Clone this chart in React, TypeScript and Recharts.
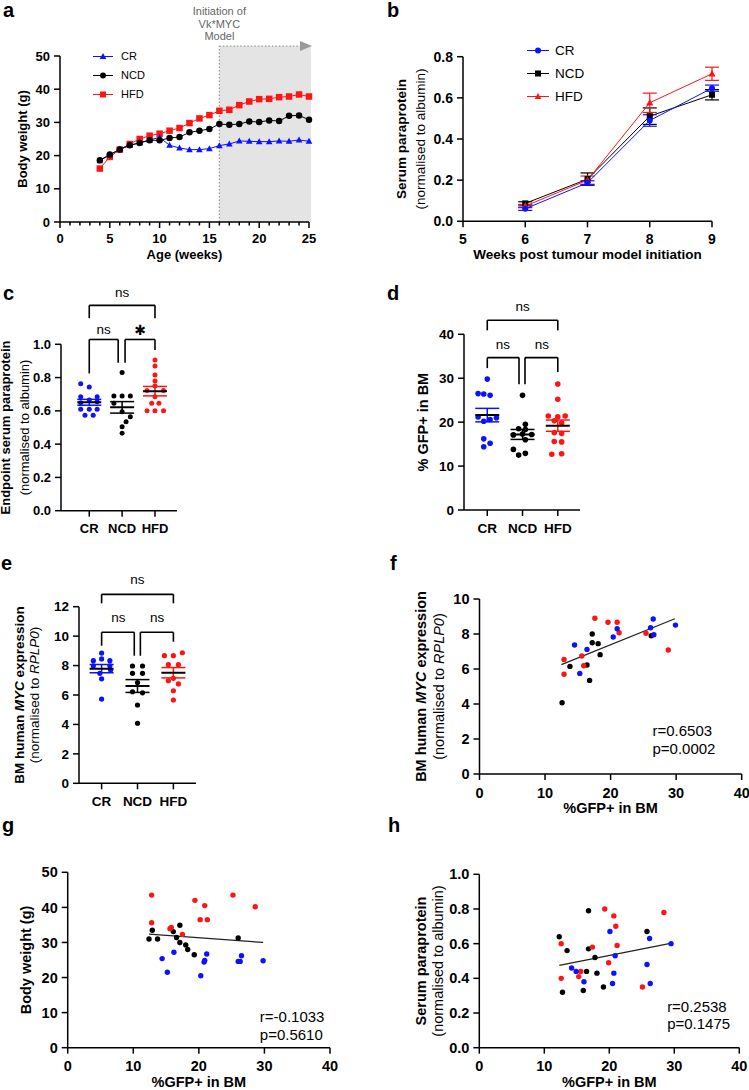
import React from "react";
import {
  LineChart,
  Line,
  ScatterChart,
  Scatter,
  XAxis,
  YAxis,
  Legend,
  ReferenceArea,
  ReferenceLine,
  ReferenceDot,
  ErrorBar,
} from "recharts";

const FONT = '"Liberation Sans", Arial, Helvetica, sans-serif';
const BLUE = "#0a12ff";
const RED = "#ff1414";
const BLACK = "#000000";
const GREY = "#9a9a9a";

const groups = ["CR", "NCD", "HFD"];

// a: body weight by age
const ageWeeks = [4, 5, 6, 7, 8, 9, 10, 11, 12, 13, 14, 15, 16, 17, 18, 19, 20, 21, 22, 23, 24, 25];
const weightCR = [18.5, 20.2, 22.0, 23.1, 23.9, 24.7, 25.5, 23.1, 22.3, 21.8, 21.8, 22.1, 23.0, 23.5, 24.4, 24.3, 24.2, 24.2, 24.4, 24.3, 24.7, 24.3];
const weightNCD = [18.6, 20.3, 21.8, 23.1, 23.8, 24.6, 24.6, 25.3, 25.6, 27.0, 27.5, 28.0, 29.5, 29.3, 29.5, 30.3, 30.1, 30.6, 30.4, 32.0, 32.1, 30.8];
const weightHFD = [16.1, 19.6, 21.8, 23.5, 25.0, 26.0, 26.6, 27.5, 28.3, 29.8, 31.2, 32.2, 33.5, 33.8, 35.2, 36.3, 37.0, 37.1, 37.6, 37.8, 38.4, 37.8];
const ageTicks = [0, 1, 2, 3, 4, 5, 6, 7, 8, 9, 10, 11, 12, 13, 14, 15, 16, 17, 18, 19, 20, 21, 22, 23, 24, 25];
const weightTicks = [0, 10, 20, 30, 40, 50];
const initiationWeek = 16;
const shadeEnd = 25.2;
const shadeTop = 53;

// b: serum paraprotein after initiation (mean, sem)
const weeksPost = [6, 7, 8, 9];
const paraCR = [0.061, 0.187, 0.49, 0.647];
const paraCRsem = [0.008, 0.01, 0.028, 0.015];
const paraNCD = [0.087, 0.205, 0.511, 0.615];
const paraNCDsem = [0.008, 0.03, 0.04, 0.025];
const paraHFD = [0.074, 0.2, 0.576, 0.717];
const paraHFDsem = [0.008, 0.02, 0.047, 0.032];
const weeksPostTicks = [5, 6, 7, 8, 9];
const paraTicks = [0, 0.2, 0.4, 0.6, 0.8];

// c: endpoint serum paraprotein (spread = horizontal offset of each dot)
const endCR = [0.763, 0.743, 0.685, 0.685, 0.665, 0.649, 0.655, 0.609, 0.609, 0.609, 0.573, 0.573];
const endCRspread = [-0.26, 0, -0.26, 0.24, 0, -0.26, 0.24, -0.26, 0, 0.24, -0.13, 0.12];
const endNCD = [0.83, 0.69, 0.69, 0.69, 0.645, 0.595, 0.565, 0.535, 0.505, 0.465];
const endNCDspread = [0, -0.25, 0, 0.25, -0.25, 0, 0.25, 0.12, 0, 0];
const endHFD = [0.905, 0.869, 0.815, 0.78, 0.75, 0.722, 0.722, 0.685, 0.645, 0.645, 0.6, 0.6, 0.6];
const endHFDspread = [0, 0, 0, 0, 0, -0.24, 0.26, 0, -0.1, 0.12, -0.24, 0, 0.26];
const unitTicks = [0, 0.2, 0.4, 0.6, 0.8, 1.0];

// d: % GFP+ in BM
const gfpCR = [29.8, 26.5, 26.4, 26.1, 21.2, 21.0, 20.6, 20.2, 16.2, 15.2, 14.4];
const gfpCRspread = [0, -0.26, -0.1, 0.08, -0.26, 0.26, 0.08, -0.1, -0.1, 0.08, -0.1];
const gfpNCD = [26.1, 19.5, 18.5, 18.3, 17.2, 17.1, 17.3, 16.0, 13.8, 12.5, 12.9];
const gfpNCDspread = [0, 0.08, -0.11, 0.08, 0.26, -0.26, 0, 0.08, -0.26, -0.11, 0.08];
const gfpHFD = [28.7, 25.2, 21.4, 21.2, 21.4, 20.3, 19.8, 17.6, 17.4, 15.6, 15.5, 12.7, 12.8];
const gfpHFDspread = [0, 0, -0.27, 0, 0.21, -0.1, 0.11, -0.1, 0.11, -0.1, 0.11, -0.17, 0.11];
const gfpTicks = [0, 10, 20, 30, 40];

// e: BM human MYC expression
const mycCR = [8.85, 8.45, 8.33, 8.33, 7.98, 7.98, 7.7, 7.47, 7.1, 5.72];
const mycCRspread = [0, 0, -0.23, 0.23, -0.23, 0.23, 0.25, -0.05, 0, 0];
const mycNCD = [7.97, 7.97, 7.47, 7.47, 6.85, 6.22, 6.15, 5.32, 4.08];
const mycNCDspread = [-0.14, 0.14, -0.14, 0.14, 0, -0.14, 0.14, 0, 0];
const mycHFD = [8.87, 8.67, 8.67, 8.06, 8.06, 7.13, 6.97, 6.75, 6.29, 5.66];
const mycHFDspread = [0.25, -0.25, 0, -0.14, 0.14, 0, -0.14, 0.14, 0, 0];
const mycTicks = [0, 2, 4, 6, 8, 10, 12];
const mycTicksF = [0, 2, 4, 6, 8, 10];

// f: MYC vs %GFP+
const fRedX = [17.6, 19.6, 21.0, 21.3, 15.6, 12.9, 15.9, 12.9, 25.4, 28.8];
const fRedY = [8.9, 8.67, 8.67, 8.07, 6.74, 6.55, 6.19, 5.7, 8.04, 7.09];
const fBlueX = [21.0, 20.4, 14.5, 16.4, 15.3, 26.5, 26.1, 26.6, 29.9];
const fBlueY = [8.3, 7.83, 7.37, 7.12, 5.75, 8.86, 8.36, 7.96, 8.51];
const fBlackX = [17.2, 17.2, 18.1, 18.4, 13.8, 16.4, 16.8, 26.2, 12.6];
const fBlackY = [8.0, 7.5, 7.45, 6.82, 6.15, 6.23, 5.35, 7.9, 4.07];
const fFit = [[12.5, 6.25], [29.8, 8.87]];

// g: body weight vs %GFP+
const gRedX = [12.8, 12.8, 15.6, 15.8, 17.5, 19.4, 20.9, 20.2, 21.3, 25.2, 28.6];
const gRedY = [43.5, 35.6, 33.9, 34.3, 32.3, 42.0, 40.5, 36.5, 36.5, 43.5, 40.2];
const gBlackX = [12.4, 12.9, 13.7, 16.1, 16.6, 17.1, 17.1, 18.0, 18.3, 19.3, 26.0];
const gBlackY = [31.0, 33.5, 31.0, 33.1, 31.4, 34.9, 30.0, 29.3, 28.0, 26.5, 31.3];
const gBlueX = [14.4, 15.2, 16.2, 20.3, 20.8, 20.9, 21.2, 26.0, 26.3, 26.5, 29.8];
const gBlueY = [25.4, 21.5, 27.2, 20.5, 24.4, 24.9, 26.7, 24.6, 24.6, 26.2, 24.8];
const gFit = [[12.4, 32.4], [29.8, 30.0]];

// h: serum paraprotein vs %GFP+
const hBlackX = [12.3, 12.8, 13.5, 16.0, 16.5, 16.8, 16.8, 17.8, 18.1, 19.1, 25.8];
const hBlackY = [0.64, 0.32, 0.56, 0.33, 0.44, 0.79, 0.57, 0.52, 0.43, 0.35, 0.67];
const hRedX = [12.6, 12.6, 15.3, 15.6, 17.4, 19.3, 19.9, 20.7, 21.0, 21.2, 25.1, 28.4];
const hRedY = [0.6, 0.4, 0.41, 0.44, 0.58, 0.8, 0.49, 0.76, 0.7, 0.59, 0.35, 0.78];
const hBlueX = [14.2, 14.9, 16.1, 20.1, 20.5, 20.7, 20.9, 25.8, 26.2, 26.3, 29.5];
const hBlueY = [0.46, 0.44, 0.38, 0.67, 0.37, 0.43, 0.53, 0.48, 0.63, 0.37, 0.6];
const hFit = [[12.3, 0.475], [29.4, 0.602]];

type Shape = "circle" | "square" | "triangle";

function Marker({ shape, cx, cy, size, color }: { shape: Shape; cx: number; cy: number; size: number; color: string }) {
  const h = size / 2;
  if (shape === "circle") return <circle cx={cx} cy={cy} r={h} fill={color} />;
  if (shape === "square") return <rect x={cx - h} y={cy - h} width={size} height={size} fill={color} />;
  return (
    <polygon
      points={`${cx},${cy - h * 1.15} ${cx - h * 1.1},${cy + h * 0.85} ${cx + h * 1.1},${cy + h * 0.85}`}
      fill={color}
    />
  );
}

type Frame = { L: number; T: number; x0: number; y0: number; x1: number; y1: number; mr: number; xh: number };

function layout(f: Frame) {
  return {
    pos: { position: "absolute" as const, left: f.L, top: f.T },
    width: f.x1 - f.L + f.mr,
    height: f.y1 - f.T + f.xh,
    margin: { top: f.y0 - f.T, right: f.mr, bottom: 0, left: 0 },
    yw: f.x0 - f.L,
    xh: f.xh,
  };
}

const tickFont = (size: number) => ({ fontSize: size, fontWeight: 700, fill: "#000", fontFamily: FONT });
const axisLine = { stroke: "#000", strokeWidth: 1.5 };
const tickLine = { stroke: "#000", strokeWidth: 1.5 };

type TitleLine = { dx: number; bold: boolean; content: React.ReactNode };

const yTitle = (lines: TitleLine[], fontSize: number) => (props: any) => {
  const vb = props.viewBox || { x: 0, y: 0, width: 0, height: 0 };
  const ax = vb.x + vb.width;
  const cy = vb.y + vb.height / 2;
  return (
    <g>
      {lines.map((l, i) => {
        const x = ax + l.dx;
        return (
          <text
            key={i}
            x={x}
            y={cy}
            transform={`rotate(-90 ${x} ${cy})`}
            textAnchor="middle"
            dominantBaseline="central"
            fontSize={fontSize}
            fontWeight={l.bold ? 700 : 400}
            fontFamily={FONT}
            fill="#000"
          >
            {l.content}
          </text>
        );
      })}
    </g>
  );
};

const xTitle = (text: string, dy: number, fontSize: number) => (props: any) => {
  const vb = props.viewBox || { x: 0, y: 0, width: 0, height: 0 };
  return (
    <text
      x={vb.x + vb.width / 2}
      y={vb.y + dy}
      textAnchor="middle"
      fontSize={fontSize}
      fontWeight={700}
      fontFamily={FONT}
      fill="#000"
    >
      {text}
    </text>
  );
};

const note = (text: string, fontSize: number, anchor: "start" | "middle" = "middle", family = FONT) => (p: any) => (
  <text
    x={p.cx}
    y={p.cy}
    textAnchor={anchor}
    dominantBaseline="central"
    fontSize={fontSize}
    fontFamily={family}
    fill="#000"
  >
    {text}
  </text>
);

type LegendItem = { name: string; color: string; shape: Shape };

function SeriesLegend({ items, rowH, lineW, gap, fontSize, size }: { items: LegendItem[]; rowH: number; lineW: number; gap: number; fontSize: number; size: number }) {
  return (
    <div style={{ fontFamily: FONT, fontSize, color: "#000" }}>
      {items.map((s) => (
        <div key={s.name} style={{ display: "flex", alignItems: "center", height: rowH }}>
          <svg width={lineW} height={rowH} style={{ display: "block" }}>
            <line x1={0} x2={lineW} y1={rowH / 2} y2={rowH / 2} stroke={s.color} strokeWidth={1} />
            <Marker shape={s.shape} color={s.color} cx={lineW / 2} cy={rowH / 2} size={size} />
          </svg>
          <span style={{ marginLeft: gap, lineHeight: 1 }}>{s.name}</span>
        </div>
      ))}
    </div>
  );
}

function AgeTick(props: any) {
  const { x, y, payload } = props;
  const major = payload.value % 5 === 0;
  return (
    <g>
      <line x1={x} x2={x} y1={y} y2={y + (major ? 6 : 3.5)} stroke="#000" strokeWidth={1.5} />
      {major && (
        <text x={x} y={y + 12} dy="0.71em" textAnchor="middle" {...tickFont(13)}>
          {payload.value}
        </text>
      )}
    </g>
  );
}

// ---------------- panel a
const FA = layout({ L: 0, T: 0, x0: 60, y0: 56, x1: 309, y1: 222, mr: 16, xh: 45 });
const rowsA = ageWeeks.map((w, i) => ({ week: w, cr: weightCR[i], ncd: weightNCD[i], hfd: weightHFD[i] }));
const seriesA: LegendItem[] = [
  { name: "CR", color: BLUE, shape: "triangle" },
  { name: "NCD", color: BLACK, shape: "circle" },
  { name: "HFD", color: RED, shape: "square" },
];

function PanelA() {
  const dot = (shape: Shape, color: string, size: number) => (p: any) => (
    <Marker key={`m${p.index}`} shape={shape} color={color} cx={p.cx} cy={p.cy} size={size} />
  );
  return (
    <div style={FA.pos}>
      <LineChart width={FA.width} height={FA.height} margin={FA.margin} data={rowsA}>
        <ReferenceArea x1={initiationWeek} x2={shadeEnd} y1={0} y2={shadeTop} fill="#e4e4e4" fillOpacity={1} stroke="none" ifOverflow="visible" />
        <ReferenceLine segment={[{ x: initiationWeek, y: 0 }, { x: initiationWeek, y: shadeTop }]} stroke={GREY} strokeWidth={1.3} strokeDasharray="1.5 2" ifOverflow="visible" />
        <ReferenceLine segment={[{ x: initiationWeek, y: shadeTop }, { x: 24.4, y: shadeTop }]} stroke={GREY} strokeWidth={1.3} strokeDasharray="1.5 2" ifOverflow="visible" />
        <ReferenceDot
          x={shadeEnd}
          y={shadeTop}
          r={0}
          ifOverflow="visible"
          shape={(p: any) => (
            <polygon points={`${p.cx - 11},${p.cy - 5} ${p.cx + 1},${p.cy} ${p.cx - 11},${p.cy + 5}`} fill={GREY} />
          )}
        />
        <ReferenceDot
          x={initiationWeek}
          y={shadeTop}
          r={0}
          ifOverflow="visible"
          shape={(p: any) => (
            <text x={p.cx} y={p.cy} textAnchor="middle" fontSize={11} fontFamily={FONT} fill="#666">
              <tspan x={p.cx} dy={-31.5}>Initiation of</tspan>
              <tspan x={p.cx} dy={13.5}>Vk*MYC</tspan>
              <tspan x={p.cx} dy={12}>Model</tspan>
            </text>
          )}
        />
        <XAxis
          dataKey="week"
          type="number"
          domain={[0, 25]}
          ticks={ageTicks}
          interval={0}
          tick={AgeTick}
          tickLine={false}
          tickSize={0}
          tickMargin={0}
          axisLine={axisLine}
          height={FA.xh}
          label={xTitle("Age (weeks)", 37, 13)}
        />
        <YAxis
          type="number"
          domain={[0, 50]}
          ticks={weightTicks}
          interval={0}
          width={FA.yw}
          tick={tickFont(13)}
          tickSize={6}
          tickMargin={4}
          axisLine={axisLine}
          tickLine={tickLine}
          label={yTitle([{ dx: -38, bold: true, content: "Body weight (g)" }], 13)}
        />
        <Line dataKey="hfd" stroke={RED} strokeWidth={1} dot={dot("square", RED, 6.5)} activeDot={false} isAnimationActive={false} />
        <Line dataKey="cr" stroke={BLUE} strokeWidth={1} dot={dot("triangle", BLUE, 6)} activeDot={false} isAnimationActive={false} />
        <Line dataKey="ncd" stroke={BLACK} strokeWidth={1} dot={dot("circle", BLACK, 6.5)} activeDot={false} isAnimationActive={false} />
        <Legend
          layout="vertical"
          align="center"
          verticalAlign="middle"
          wrapperStyle={{ left: 93, top: 46.5, width: 70 }}
          content={() => <SeriesLegend items={seriesA} rowH={19} lineW={20} gap={8} fontSize={11} size={6} />}
        />
      </LineChart>
    </div>
  );
}

// ---------------- panel b
const FB = layout({ L: 390, T: 30, x0: 463, y0: 56.7, x1: 712, y1: 221.3, mr: 12, xh: 45 });
const rowsB = weeksPost.map((w, i) => ({
  wk: w,
  cr: paraCR[i],
  crE: paraCRsem[i],
  ncd: paraNCD[i],
  ncdE: paraNCDsem[i],
  hfd: paraHFD[i],
  hfdE: paraHFDsem[i],
}));
const seriesB: LegendItem[] = [
  { name: "CR", color: BLUE, shape: "circle" },
  { name: "NCD", color: BLACK, shape: "square" },
  { name: "HFD", color: RED, shape: "triangle" },
];

function PanelB() {
  const dot = (shape: Shape, color: string, size: number) => (p: any) => (
    <Marker key={`m${p.index}`} shape={shape} color={color} cx={p.cx} cy={p.cy} size={size} />
  );
  return (
    <div style={FB.pos}>
      <LineChart width={FB.width} height={FB.height} margin={FB.margin} data={rowsB}>
        <XAxis
          dataKey="wk"
          type="number"
          domain={[5, 9]}
          ticks={weeksPostTicks}
          interval={0}
          tick={tickFont(14)}
          tickSize={6}
          tickMargin={7}
          axisLine={axisLine}
          tickLine={tickLine}
          height={FB.xh}
          label={xTitle("Weeks post tumour model initiation", 38, 13.5)}
        />
        <YAxis
          type="number"
          domain={[0, 0.8]}
          ticks={paraTicks}
          interval={0}
          width={FB.yw}
          tick={tickFont(14)}
          tickFormatter={(v: number) => v.toFixed(1)}
          tickSize={6}
          tickMargin={4}
          axisLine={axisLine}
          tickLine={tickLine}
          label={yTitle(
            [
              { dx: -61, bold: true, content: "Serum paraprotein" },
              { dx: -42.5, bold: false, content: "(normalised to albumin)" },
            ],
            13.5
          )}
        />
        <Line dataKey="ncd" stroke={BLACK} strokeWidth={1} dot={dot("square", BLACK, 6)} activeDot={false} isAnimationActive={false}>
          <ErrorBar dataKey="ncdE" direction="y" width={7} stroke={BLACK} strokeWidth={1.2} />
        </Line>
        <Line dataKey="hfd" stroke={RED} strokeWidth={1} dot={dot("triangle", RED, 6.5)} activeDot={false} isAnimationActive={false}>
          <ErrorBar dataKey="hfdE" direction="y" width={7} stroke={RED} strokeWidth={1.2} />
        </Line>
        <Line dataKey="cr" stroke={BLUE} strokeWidth={1} dot={dot("circle", BLUE, 6)} activeDot={false} isAnimationActive={false}>
          <ErrorBar dataKey="crE" direction="y" width={7} stroke={BLUE} strokeWidth={1.2} />
        </Line>
        <Legend
          layout="vertical"
          align="center"
          verticalAlign="middle"
          wrapperStyle={{ left: 137, top: 9, width: 80 }}
          content={() => <SeriesLegend items={seriesB} rowH={23} lineW={22} gap={6} fontSize={13.5} size={6} />}
        />
      </LineChart>
    </div>
  );
}

// ---------------- dot plots c, d, e
type Bracket = { x1: number; x2: number; y: number; y1: number; y2: number };
type Note = { x: number; y: number; text: string };
type DotSet = { values: number[]; spread: number[]; color: string };

const mean = (v: number[]) => v.reduce((a, b) => a + b, 0) / v.length;
const sem = (v: number[]) => {
  const m = mean(v);
  const sd = Math.sqrt(v.reduce((a, b) => a + (b - m) * (b - m), 0) / (v.length - 1));
  return sd / Math.sqrt(v.length);
};

function DotPanel({
  frame,
  sets,
  xDomain,
  yDomain,
  yTicks,
  yFmt,
  tickSize,
  titles,
  titleSize,
  brackets,
  notes,
  r,
}: {
  frame: Frame;
  sets: DotSet[];
  xDomain: [number, number];
  yDomain: [number, number];
  yTicks: number[];
  yFmt: (v: number) => string;
  tickSize: number;
  titles: TitleLine[];
  titleSize: number;
  brackets: Bracket[];
  notes: Note[];
  r: number;
}) {
  const F = layout(frame);
  return (
    <div style={F.pos}>
      <ScatterChart width={F.width} height={F.height} margin={F.margin}>
        <XAxis
          dataKey="x"
          type="number"
          domain={xDomain}
          allowDataOverflow
          ticks={[0, 1, 2]}
          interval={0}
          tickFormatter={(v: number) => groups[v]}
          tick={tickFont(tickSize)}
          tickSize={6}
          tickMargin={7}
          axisLine={axisLine}
          tickLine={tickLine}
          height={F.xh}
        />
        <YAxis
          dataKey="y"
          type="number"
          domain={yDomain}
          allowDataOverflow
          ticks={yTicks}
          interval={0}
          width={F.yw}
          tick={tickFont(tickSize)}
          tickFormatter={yFmt}
          tickSize={6}
          tickMargin={4}
          axisLine={axisLine}
          tickLine={tickLine}
          label={yTitle(titles, titleSize)}
        />
        {brackets.map((b, i) => [
          <ReferenceLine key={`l${i}`} segment={[{ x: b.x1, y: b.y1 }, { x: b.x1, y: b.y }]} stroke="#000" strokeWidth={1.6} ifOverflow="visible" />,
          <ReferenceLine key={`t${i}`} segment={[{ x: b.x1, y: b.y }, { x: b.x2, y: b.y }]} stroke="#000" strokeWidth={1.6} ifOverflow="visible" />,
          <ReferenceLine key={`r${i}`} segment={[{ x: b.x2, y: b.y }, { x: b.x2, y: b.y2 }]} stroke="#000" strokeWidth={1.6} ifOverflow="visible" />,
        ])}
        {notes.map((n, i) => (
          <ReferenceDot
            key={`n${i}`}
            x={n.x}
            y={n.y}
            r={0}
            ifOverflow="visible"
            shape={n.text === "ns" ? note("ns", 13.5) : note(n.text, 14, "middle", '"DejaVu Sans", sans-serif')}
          />
        ))}
        {sets.map((s, gi) => (
          <Scatter
            key={`s${gi}`}
            data={s.values.map((v, i) => ({ x: gi + s.spread[i], y: v }))}
            shape={(p: any) => <circle cx={p.cx} cy={p.cy} r={r} fill={s.color} />}
            isAnimationActive={false}
          />
        ))}
        {sets.map((s, gi) => (
          <Scatter
            key={`m${gi}`}
            data={[{ x: gi, y: mean(s.values), err: sem(s.values) }]}
            shape={(p: any) => <line x1={p.cx - 12} x2={p.cx + 12} y1={p.cy} y2={p.cy} stroke="#000" strokeWidth={2} />}
            isAnimationActive={false}
          >
            <ErrorBar dataKey="err" direction="y" width={12} stroke={s.color} strokeWidth={1.5} />
          </Scatter>
        ))}
      </ScatterChart>
    </div>
  );
}

// ---------------- scatter panels f, g, h
type XYSet = { xs: number[]; ys: number[]; color: string };

function CorrPanel({
  frame,
  sets,
  yDomain,
  yTicks,
  yFmt,
  titles,
  fit,
  stats,
  statsAt,
}: {
  frame: Frame;
  sets: XYSet[];
  yDomain: [number, number];
  yTicks: number[];
  yFmt: (v: number) => string;
  titles: TitleLine[];
  fit: number[][];
  stats: string[];
  statsAt: number[][];
}) {
  const F = layout(frame);
  return (
    <div style={F.pos}>
      <ScatterChart width={F.width} height={F.height} margin={F.margin}>
        <XAxis
          dataKey="x"
          type="number"
          domain={[0, 40]}
          allowDataOverflow
          ticks={gfpTicks}
          interval={0}
          tick={tickFont(14.5)}
          tickSize={6}
          tickMargin={7.5}
          axisLine={axisLine}
          tickLine={tickLine}
          height={F.xh}
          label={xTitle("%GFP+ in BM", 39.5, 14.5)}
        />
        <YAxis
          dataKey="y"
          type="number"
          domain={yDomain}
          allowDataOverflow
          ticks={yTicks}
          interval={0}
          width={F.yw}
          tick={tickFont(14.5)}
          tickFormatter={yFmt}
          tickSize={6}
          tickMargin={4}
          axisLine={axisLine}
          tickLine={tickLine}
          label={yTitle(titles, 14.5)}
        />
        {sets.map((s, gi) => (
          <Scatter
            key={`s${gi}`}
            data={s.xs.map((x, i) => ({ x, y: s.ys[i] }))}
            shape={(p: any) => <circle cx={p.cx} cy={p.cy} r={2.7} fill={s.color} />}
            isAnimationActive={false}
          />
        ))}
        <ReferenceLine
          segment={[{ x: fit[0][0], y: fit[0][1] }, { x: fit[1][0], y: fit[1][1] }]}
          stroke="#222"
          strokeWidth={1.2}
        />
        {stats.map((t, i) => (
          <ReferenceDot key={`t${i}`} x={statsAt[i][0]} y={statsAt[i][1]} r={0} ifOverflow="visible" shape={note(t, 15, "start")} />
        ))}
      </ScatterChart>
    </div>
  );
}

const mycTitle = (fontSize: number, dxBold: number, dxNorm: number): TitleLine[] => [
  {
    dx: dxBold,
    bold: true,
    content: (
      <>
        <tspan>BM human </tspan>
        <tspan fontStyle="italic">MYC</tspan>
        <tspan> expression</tspan>
      </>
    ),
  },
  {
    dx: dxNorm,
    bold: false,
    content: (
      <>
        <tspan>(normalised to </tspan>
        <tspan fontStyle="italic">RPLP0</tspan>
        <tspan>)</tspan>
      </>
    ),
  },
];

const fmt1 = (v: number) => v.toFixed(1);
const fmt0 = (v: number) => String(v);

const panelLetters = [
  { t: "a", x: 3, y: 17 },
  { t: "b", x: 387, y: 17 },
  { t: "c", x: 3, y: 300 },
  { t: "d", x: 387, y: 300 },
  { t: "e", x: 1, y: 570 },
  { t: "f", x: 390, y: 570 },
  { t: "g", x: 2, y: 832 },
  { t: "h", x: 388, y: 832 },
];

export default function App() {
  return (
    <div style={{ position: "absolute", left: 0, top: 0, width: 749, height: 1090, background: "#fff", fontFamily: FONT }}>
      <PanelA />
      <PanelB />
      <DotPanel
        frame={{ L: 0, T: 270, x0: 61, y0: 344.3, x1: 177, y1: 510.7, mr: 10, xh: 30 }}
        sets={[
          { values: endCR, spread: endCRspread, color: BLUE },
          { values: endNCD, spread: endNCDspread, color: BLACK },
          { values: endHFD, spread: endHFDspread, color: RED },
        ]}
        xDomain={[-0.86, 2.67]}
        yDomain={[0, 1]}
        yTicks={unitTicks}
        yFmt={fmt1}
        tickSize={13}
        titles={[
          { dx: -55, bold: true, content: "Endpoint serum paraprotein" },
          { dx: -36, bold: false, content: "(normalised to albumin)" },
        ]}
        titleSize={13}
        brackets={[
          { x1: 0, x2: 2, y: 1.234, y1: 1.157, y2: 1.157 },
          { x1: 0, x2: 0.88, y: 1.029, y1: 0.825, y2: 0.889 },
          { x1: 1.09, x2: 2, y: 1.029, y1: 0.889, y2: 0.965 },
        ]}
        notes={[
          { x: 1, y: 1.313, text: "ns" },
          { x: 0.44, y: 1.089, text: "ns" },
          { x: 1.545, y: 1.085, text: "✱" },
        ]}
        r={2.5}
      />
      <DotPanel
        frame={{ L: 405, T: 280, x0: 464, y0: 334.3, x1: 580, y1: 510, mr: 10, xh: 30 }}
        sets={[
          { values: gfpCR, spread: gfpCRspread, color: BLUE },
          { values: gfpNCD, spread: gfpNCDspread, color: BLACK },
          { values: gfpHFD, spread: gfpHFDspread, color: RED },
        ]}
        xDomain={[-0.66, 2.63]}
        yDomain={[0, 40]}
        yTicks={gfpTicks}
        yFmt={fmt0}
        tickSize={13.5}
        titles={[{ dx: -41, bold: true, content: "% GFP+ in BM" }]}
        titleSize={14.5}
        brackets={[
          { x1: 0, x2: 2, y: 43.2, y1: 40.9, y2: 40.9 },
          { x1: 0, x2: 0.9, y: 34.7, y1: 32.3, y2: 28.6 },
          { x1: 1.07, x2: 2, y: 34.7, y1: 28.6, y2: 31.4 },
        ]}
        notes={[
          { x: 1, y: 46.4, text: "ns" },
          { x: 0.44, y: 37.7, text: "ns" },
          { x: 1.55, y: 37.7, text: "ns" },
        ]}
        r={2.8}
      />
      <DotPanel
        frame={{ L: 0, T: 555, x0: 79, y0: 606.7, x1: 196, y1: 783.3, mr: 10, xh: 30 }}
        sets={[
          { values: mycCR, spread: mycCRspread, color: BLUE },
          { values: mycNCD, spread: mycNCDspread, color: BLACK },
          { values: mycHFD, spread: mycHFDspread, color: RED },
        ]}
        xDomain={[-0.63, 2.63]}
        yDomain={[0, 12]}
        yTicks={mycTicks}
        yFmt={fmt0}
        tickSize={13.5}
        titles={mycTitle(13.5, -60, -45)}
        titleSize={13.5}
        brackets={[
          { x1: 0, x2: 2, y: 12.84, y1: 12.23, y2: 12.23 },
          { x1: 0, x2: 0.91, y: 10.26, y1: 9.35, y2: 8.67 },
          { x1: 1.08, x2: 2, y: 10.26, y1: 8.67, y2: 9.62 },
        ]}
        notes={[
          { x: 1, y: 13.86, text: "ns" },
          { x: 0.47, y: 11.28, text: "ns" },
          { x: 1.55, y: 11.28, text: "ns" },
        ]}
        r={2.6}
      />
      <CorrPanel
        frame={{ L: 400, T: 580, x0: 479.5, y0: 599, x1: 741.7, y1: 774, mr: 7, xh: 48 }}
        sets={[
          { xs: fBlackX, ys: fBlackY, color: BLACK },
          { xs: fRedX, ys: fRedY, color: RED },
          { xs: fBlueX, ys: fBlueY, color: BLUE },
        ]}
        yDomain={[0, 10]}
        yTicks={mycTicksF}
        yFmt={fmt0}
        titles={mycTitle(14.5, -58, -40.5)}
        fit={fFit}
        stats={["r=0.6503", "p=0.0002"]}
        statsAt={[[26.4, 2.46], [26.4, 1.43]]}
      />
      <CorrPanel
        frame={{ L: 0, T: 850, x0: 67.7, y0: 872.3, x1: 330, y1: 1047.7, mr: 15, xh: 42 }}
        sets={[
          { xs: gBlackX, ys: gBlackY, color: BLACK },
          { xs: gRedX, ys: gRedY, color: RED },
          { xs: gBlueX, ys: gBlueY, color: BLUE },
        ]}
        yDomain={[0, 50]}
        yTicks={weightTicks}
        yFmt={fmt0}
        titles={[{ dx: -42, bold: true, content: "Body weight (g)" }]}
        fit={gFit}
        stats={["r=-0.1033", "p=0.5610"]}
        statsAt={[[29.3, 8.86], [29.3, 3.83]]}
      />
      <CorrPanel
        frame={{ L: 400, T: 850, x0: 479.3, y0: 874.3, x1: 739.3, y1: 1047.7, mr: 9, xh: 42 }}
        sets={[
          { xs: hBlackX, ys: hBlackY, color: BLACK },
          { xs: hRedX, ys: hRedY, color: RED },
          { xs: hBlueX, ys: hBlueY, color: BLUE },
        ]}
        yDomain={[0, 1]}
        yTicks={unitTicks}
        yFmt={fmt1}
        titles={[
          { dx: -58, bold: true, content: "Serum paraprotein" },
          { dx: -41, bold: false, content: "(normalised to albumin)" },
        ]}
        fit={hFit}
        stats={["r=0.2538", "p=0.1475"]}
        statsAt={[[28.9, 0.236], [28.9, 0.141]]}
      />
      <svg width={749} height={1090} style={{ position: "absolute", left: 0, top: 0, pointerEvents: "none" }}>
        {panelLetters.map((l) => (
          <text key={l.t} x={l.x} y={l.y} fontSize={20} fontWeight={700} fontFamily={FONT} fill="#000">
            {l.t}
          </text>
        ))}
      </svg>
    </div>
  );
}
